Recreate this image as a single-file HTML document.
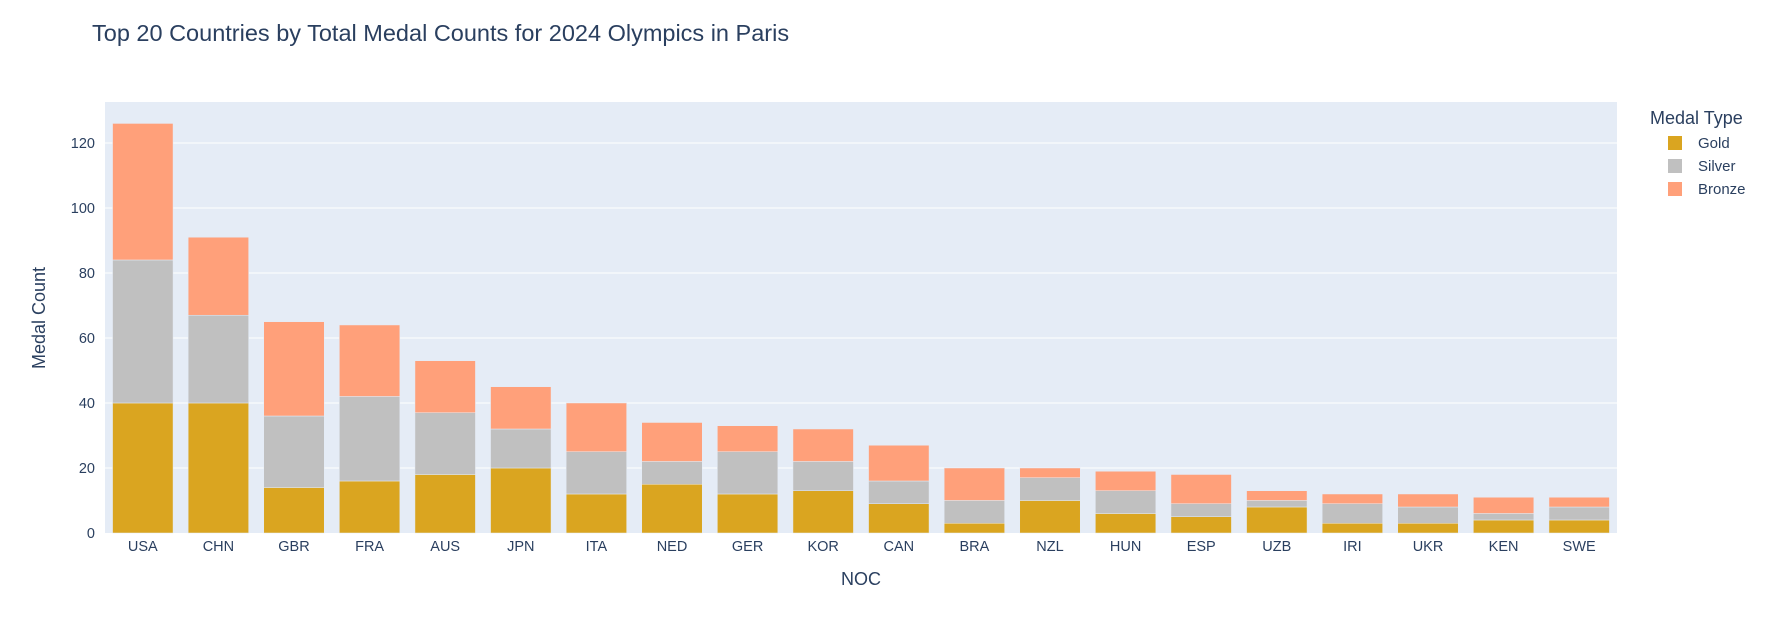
<!DOCTYPE html>
<html><head><meta charset="utf-8"><style>
body{margin:0;background:#fff;width:1770px;height:626px;overflow:hidden;font-family:"Liberation Sans",sans-serif;}
svg text{font-family:"Liberation Sans",sans-serif;}
</style></head><body>
<svg id="chart" width="1770" height="626">
<text x="92" y="41" font-size="23.5" fill="#2a3f5f">Top 20 Countries by Total Medal Counts for 2024 Olympics in Paris</text>
<rect x="105" y="102" width="1512" height="431" fill="#e5ecf6"/>
<g id="grid"></g><g id="bars"></g><g id="xt"></g><g id="yt"></g>
<text x="861" y="585" font-size="18" fill="#2a3f5f" text-anchor="middle">NOC</text>
<text transform="translate(45,318) rotate(-90)" font-size="18" fill="#2a3f5f" text-anchor="middle">Medal Count</text>
<g>
<text x="1650" y="124" font-size="18" fill="#2a3f5f">Medal Type</text>
<g><rect x="1668" y="136" width="14" height="14" fill="#daa520"/><text x="1698" y="148" font-size="15" fill="#2a3f5f">Gold</text></g>
<g><rect x="1668" y="159" width="14" height="14" fill="#c0c0c0"/><text x="1698" y="171" font-size="15" fill="#2a3f5f">Silver</text></g>
<g><rect x="1668" y="182" width="14" height="14" fill="#ffa07a"/><text x="1698" y="194" font-size="15" fill="#2a3f5f">Bronze</text></g>
</g>
</svg>
<script>
const countries=["USA","CHN","GBR","FRA","AUS","JPN","ITA","NED","GER","KOR","CAN","BRA","NZL","HUN","ESP","UZB","IRI","UKR","KEN","SWE"];
const gold=[40,40,14,16,18,20,12,15,12,13,9,3,10,6,5,8,3,3,4,4];
const silver=[44,27,22,26,19,12,13,7,13,9,7,7,7,7,4,2,6,5,2,4];
const bronze=[42,24,29,22,16,13,15,12,8,10,11,10,3,6,9,3,3,4,5,3];
const yTicks=[0,20,40,60,80,100,120];
const NS="http://www.w3.org/2000/svg";
const L=105,T=102,W=1512,B=533,yMax=132.6;
const band=W/countries.length;
function y(v){return B-(v/yMax)*(B-T);}
function x(i){return L+i*band;}
function mk(t,a,p){const e=document.createElementNS(NS,t);for(const k in a)e.setAttribute(k,a[k]);document.getElementById(p).appendChild(e);return e;}
yTicks.forEach(v=>{
 if(v>0){const g=mk("line",{x1:L,x2:L+W,y1:y(v),y2:y(v),stroke:"#fff","stroke-width":1},"grid");
 
 }
 const t=mk("text",{x:L-10,y:y(v)+5,"font-size":14.5,fill:"#2a3f5f","text-anchor":"end"},"yt");t.textContent=v;
 
 
});
const series=[["gold",gold,"#daa520"],["silver",silver,"#c0c0c0"],["bronze",bronze,"#ffa07a"]];
countries.forEach((c,i)=>{
 let base=0;const bw=band*0.8,bx=x(i)+band*0.1;
 series.forEach(([n,arr,col])=>{
  const v=arr[i];
  const r=mk("rect",{x:bx,y:y(base+v),width:bw,height:y(base)-y(base+v),fill:col,stroke:"#e5ecf6","stroke-width":0.5},"bars");
  
  
  base+=v;
 });
 const t=mk("text",{x:x(i)+band/2,y:B+18,"font-size":14.5,fill:"#2a3f5f","text-anchor":"middle"},"xt");t.textContent=c;
 
 
});
</script>
</body></html>
